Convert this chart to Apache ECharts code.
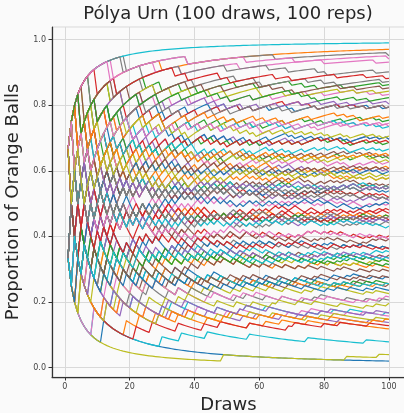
<!DOCTYPE html>
<html><head><meta charset="utf-8">
<script src="https://cdn.jsdelivr.net/npm/echarts@6.0.0/dist/echarts.min.js"></script>
<style>html,body{margin:0;padding:0;background:#fafafa}#chart{width:404px;height:413px}</style>
</head><body><div id="chart"></div>
<script>
const chartTitle = 'Pólya Urn (100 draws, 100 reps)';
const xName = 'Draws';
const yName = 'Proportion of Orange Balls';
const xTicks = [0, 20, 40, 60, 80, 100];
const yTicks = [0, 0.2, 0.4, 0.6, 0.8, 1.0];
const palette = ['#1f77b4','#ff7f0e','#2ca02c','#d62728','#9467bd','#8c564b','#e377c2','#7f7f7f','#bcbd22','#17becf'];
const initialOrange = 1;
const initialTotal = 2;
// one string per rep: draw outcomes 1..100, '1' = orange drawn, '0' = blue drawn
const repDraws = [
"0000000000 0100000000 0000000000 0000000000 0000000000 0000000000 0000000000 0000000000 0000000000 0000000000",
"1111011111 1111111111 1111111110 1111111111 1111111111 1111111111 1111111111 1111111111 1111111111 1111111111",
"1011001101 1100100110 0111010011 0101101001 1010110101 1001011010 1101011010 0011010101 0110110110 0110100101",
"0100110010 1001011010 0110100101 1100100110 1010001001 0101101001 1001011010 0011010101 1000110001 1011001100",
"1110110110 0111011101 1101101011 1011101011 1110110110 1101011010 1101111101 0111011101 1101101011 1110110110",
"0100100010 1010001001 0010010001 1001010100 0001001010 1000100100 0110001010 0100010010 1001000100 0010101001",
"1111111111 1111011111 1111111011 1111101111 1111111111 1110111111 1111111111 1111111110 1111111111 1111101111",
"1111111111 1111111101 1111111111 1111111011 1111111111 1111111111 1111011111 1111111111 1111111111 1111111110",
"0000000000 0000000000 0000000000 0000000000 0000000010 0000000000 0000000000 0000000000 0000001000 0000001000",
"1111111111 1111111111 1111111111 1111111111 1111111111 1111111111 1111111111 1111111111 1111111111 1111111111",
"1111011110 1110111011 1101111101 0111111011 1111011110 1110111011 1101111101 0111111011 1111011110 1110111011",
"0100000000 0000000010 0010000100 0000100000 0001000000 0000001000 0100001000 0000100000 0001000000 0000000000",
"1111111011 1110111111 1111011110 1111101111 0111111111 1101111101 1111111110 1110111011 1111101111 1111111011",
"0110001010 1001010100 0110100101 0010010001 1010001001 0100110010 1000110001 0101101001 0100100010 0010101001",
"1101011010 0111010011 1101101011 1011001100 1010110101 0110110110 1110110110 0110100101 1011001101 1101011010",
"0010010000 1000100100 0001010000 0100100010 0010000100 1001000100 0000100010 0100010010 0010010001 1000000001",
"1110111011 1101101011 0111011101 1101111101 1011101011 1110110110 0111111011 1101101011 1111011110 1110110110",
"1111111111 1111111011 1110111111 1111101111 1111111110 1111111111 1101111101 1111111011 0111111111 1111101111",
"0001010000 0100001000 1000100100 0000100010 0010010000 0100100010 0010000100 0001001010 0100000000 0010010000",
"0000000010 0000000000 0000000001 0000010000 0001000000 0000001000 0000000000 0000100000 0000000000 0010000000",
"1011001100 0100110010 1001011010 0010101001 0110100101 1000110001 0101101001 0110001010 1100100110 1010001001",
"0010010001 1001000100 0100100010 1010001001 0001001010 0010000100 1000100100 0100110010 0100010010 0001010000",
"1110110110 1011001101 0111011101 1101011010 1010110101 1101101011 0110110110 1011101011 0111010011 1101011010",
"0110100101 1011001101 0101101001 1001011010 0110110110 1100100110 0011010101 1010110101 0110100101 1001010100",
"0000100000 0010000100 0000000010 0100001000 0001000000 0000100010 0000001000 0100000000 0000100000 0001000000",
"1101011010 0110100101 1011001101 0111010011 1001011010 1010110101 0110110110 1100100110 1101011010 0011010101",
"1111011110 1111111011 1110111011 1101111101 1111101111 0111111011 1110111111 1111011110 1111111110 1110111011",
"1001010100 0100100010 0110100101 1000100100 0010101001 0100010010 1010001001 0010010001 0100110010 1001000100",
"0111010011 1101101011 1001011010 1010110101 0110110110 1011001100 1101011010 1110110110 0101101001 1011001101",
"0100001000 0000100000 1000000001 0010000100 0000001000 0001010000 0100000000 0000100010 0010000100 0000000010",
"1101101011 1110111011 0111011101 1010110101 1110110110 1011101011 1101111101 0110110110 1101101011 1110110110",
"1001011010 0100110010 1011001100 0101101001 1000110001 0110100101 1010001001 1100100110 0011010101 0110001010",
"0100100010 0010000100 1001000100 0001010000 1000100100 0000100010 0010010001 0100001000 0001001010 0010010000",
"1111011110 1101111101 1110110110 1111101111 0111111011 1110111011 1111111011 1101101011 1111011110 1101111101",
"0110100101 1101011010 0101101001 1001011010 0011010101 1010110101 0100110010 1100100110 0110100101 1011001100",
"1010001001 0110100101 0100100010 1001010100 0010101001 1000110001 0100010010 0110001010 1001000100 0101101001",
"0000000010 0100001000 0000100000 0010000100 1000000001 0001000000 0000100010 0010010000 0000001000 0100000000",
"1111111011 1111101111 1110111011 1111111110 1111111111 1101111101 0111111111 1111011110 1110111111 1111111011",
"0010010001 0100100010 1010001001 0001001010 1000100100 0100110010 0010000100 1001000100 0100010010 1001010100",
"1011001101 0110100101 1101011010 0011010101 0111010011 1001011010 1010110101 0101101001 0110110110 1100100110",
"1000100100 0010010000 0100100010 1001000100 0001010000 0010010001 0100001000 1000100100 0110001010 0000100010",
"1110110110 0110100101 1011001101 1101101011 0111010011 1010110101 1100100110 1101011010 1011101011 0110110110",
"1101111101 1110110110 1111011110 0111011101 1110111011 1101101011 0111111011 1110110110 1111101111 1011101011",
"0001000000 0000000000 0100001000 0000100000 0010000100 0000001000 0000000010 1000000001 0000100000 0001000000",
"0110001010 1011001100 0100110010 0110100101 1001010100 0101101001 1000110001 0011010101 1010001001 1001011010",
"0111011101 1101011010 1110110110 0111010011 1101101011 1010110101 1011101011 0110110110 1110110110 1011001101",
"1100100110 0110100101 1001011010 0011010101 1011001100 0101101001 1001011010 0110100101 1100100110 0011010101",
"0010000100 1000000001 0001010000 0100100010 0000100000 0010010000 0100001000 0001001010 0000001000 0010000100",
"1111101111 1110111011 1111111011 1101111101 1111011110 1111111110 0111111011 1110111111 1111011110 1111101111",
"0100100010 1010001001 0010010001 0110001010 1000100100 1001010100 0100010010 0010101001 0001001010 0100110010",
"1010110101 0110100101 1100100110 1011001101 0101101001 1001011010 0111010011 0011010101 1101011010 0110100101",
"0001001010 0100001000 0010010001 1000000001 0100100010 0010000100 0001010000 1000100100 0000100010 0100010010",
"1101101011 0111011101 1010110101 1110111011 1011101011 0110110110 1110110110 1101111101 0111010011 1101101011",
"0011010101 1001010100 0110100101 1100100110 0100110010 1011001101 0101101001 1000110001 0110100101 1001011010",
"1110111011 1111111011 1101111101 0111111011 1110110110 1111011110 1111101111 1101111101 1110111011 1111011110",
"0100010010 0010010001 1000100100 0001001010 0110001010 0010000100 1001000100 0100100010 0001010000 1000100100",
"1011001101 1101101011 0110110110 1110110110 1001011010 0111011101 1010110101 1101011010 0111010011 1011101011",
"1000110001 0110100101 1010001001 0100110010 1011001100 0010101001 0101101001 1001010100 0110001010 1100100110",
"0000100000 0010010000 0000000010 1000000001 0000001000 0100001000 0001000000 0000100010 0010000000 0000010000",
"1110110110 1111011110 1011101011 1101111101 0111011101 1110111011 1101101011 0111111011 1110110110 1101101011",
"0110001010 0100100010 1001010100 0010101001 1000100100 0110100101 0010010001 1010001001 0100010010 1001000100",
"0110110110 1011001101 1100100110 1101011010 0111010011 1010110101 0101101001 1110110110 1001011010 1011001101",
"1001000100 0010101001 0100010010 1000100100 0110001010 0001001010 0100100010 0010010001 1001010100 0010000100",
"1111111110 1111101111 1111111111 1110111011 1111111011 0111111111 1111011110 1111111111 1110111111 1101111101",
"1011001100 0100110010 1001011010 0110001010 0101101001 1010001001 0110100101 1000110001 1100100110 0010101001",
"0101101001 1010110101 0110100101 1001011010 1101011010 0011010101 1100100110 0111010011 1001010100 0110100101",
"0100001000 0010010000 1000100100 0000100000 0001010000 0100100010 0000001000 0010000100 1000000001 0001001010",
"1101111101 1110111011 1111011110 1101101011 1111101111 0111111011 1110110110 1111111011 1110111011 1101111101",
"1101101011 0110110110 1011001101 1110110110 0111010011 1101011010 1011101011 1010110101 0111011101 1100100110",
"0010010001 0001010000 0100100010 0010000100 1001000100 0000100010 0100010010 1000000001 0010010000 0100100010",
"1010110101 0111010011 1101101011 0110100101 1011001101 1101011010 0110110110 1001011010 1110110110 0111010011",
"0001000000 0100001000 0000100000 0010000100 0000000010 1000000001 0000100000 0001000000 0100000000 0000100010",
"0110100101 1000110001 1011001100 0100110010 1001011010 0110001010 0101101001 1010001001 0011010101 1100100110",
"1110110110 1101101011 0111011101 1011101011 1101011010 1110111011 0110110110 1101111101 1011001101 1110110110",
"0100110010 0010010001 1000100100 0110001010 0100010010 1001000100 0010101001 0001001010 1000110001 0010000100",
"1111101111 1111011110 1110111111 1111111011 1101111101 1111111110 1110111011 0111111111 1111011110 1111111011",
"1001010100 0110100101 0100100010 1010001001 0011010101 1000100100 0110001010 0101101001 0010010001 1001000100",
"1100100110 1011001101 0110100101 1010110101 0101101001 1101011010 0011010101 0111010011 1001011010 0110110110",
"0000100010 0100000000 0010010000 1000100100 0000001000 0010000100 0001010000 0100001000 0000100000 0010010001",
"0111011101 1101101011 1010110101 1110110110 0110110110 1011101011 1101011010 1110111011 0111010011 1101101011",
"0101101001 1100100110 0011010101 1010110101 0100110010 1001011010 0110100101 1011001100 1000110001 0110110110",
"1110111011 1101101011 1111011110 0111111011 1110110110 1101111101 1011101011 1111101111 1110110110 0111111011",
"0100100010 1001000100 0010101001 0001001010 1000100100 0100010010 0110001010 0010000100 1001010100 0000100010",
"1001011010 0110001010 1100100110 1000110001 0110100101 0100110010 1011001100 0010101001 0101101001 1001010100",
"0010000100 0000100000 1000000001 0100001000 0000001000 0001010000 0010000000 0000100010 0100000000 0010010000",
"1101011010 1010110101 0111011101 1001011010 1110110110 0110100101 1011001101 1101101011 0110110110 1010110101",
"1111111111 1110111111 1111111111 1111111011 1111111111 1111101111 1111111111 0111111111 1111111111 1111111110",
"1011001101 0101101001 1100100110 0110100101 1010110101 1001010100 0111010011 0011010101 1001011010 0110100101",
"1101111101 0111011101 1110110110 1101101011 1111011110 1010110101 1110111011 0110110110 1011101011 1101101011",
"0110100101 1010001001 0100110010 1001011010 0010101001 0110001010 1100100110 1000110001 0101101001 0010010001",
"0001010000 0100100010 0010000100 1000100100 0000100010 0010010001 0100001000 0001000000 1001000100 0010010000",
"1110110110 0111010011 1101101011 1010110101 0111011101 1011001101 1101011010 1011101011 0110110110 1110110110",
"1111011110 1110111111 1101111101 1111101111 1110111011 0111111011 1111111110 1101101011 1111011110 1110111111",
"1000110001 0100100010 0110100101 0010010001 1010001001 0001001010 0100110010 1001000100 0110001010 0100010010",
"0111010011 1001011010 1010110101 0110100101 1101011010 0101101001 1011001101 1100100110 0110110110 0011010101",
"0100010010 0010000100 1001000100 0001010000 0100100010 1000100100 0010010000 0110001010 0000100010 1001000100",
"1101101011 1111011110 0111011101 1110111011 1011101011 1101111101 1110110110 0111111011 1101101011 1110111011",
"0110100101 1001010100 1011001100 0100110010 0101101001 1100100110 1000110001 0011010101 1010001001 0110100101",
"1011001101 1101011010 0110100101 0111010011 1010110101 1110110110 1001011010 0110110110 1100100110 1011001101",
"0010010001 1000100100 0110001010 0100100010 1001010100 0010000100 0100110010 0001001010 1010001001 0100010010"
];

const series = repDraws.map(function (s, i) {
  const bits = s.replace(/\s+/g, '');
  let orange = initialOrange;
  const data = [];
  for (let n = 1; n <= bits.length; n++) {
    if (bits[n - 1] === '1') orange++;
    data.push([n, orange / (n + initialTotal)]);
  }
  return {
    type: 'line', data: data, showSymbol: false, symbol: 'none', silent: true,
    lineStyle: { width: 1.2, color: palette[i % palette.length], join: 'round' },
    itemStyle: { color: palette[i % palette.length] }
  };
});

const chart = echarts.init(document.getElementById('chart'), null, { renderer: 'canvas' });
chart.setOption({
  animation: false,
  backgroundColor: '#fafafa',
  textStyle: { fontFamily: 'DejaVu Sans' },
  graphic: [{
    type: 'text', x: 228, y: 14.5,
    style: { text: chartTitle, font: '18px "DejaVu Sans"', fill: '#262626', align: 'center', verticalAlign: 'middle', textAlign: 'center', textVerticalAlign: 'middle' }
  }],
  grid: { left: 52, top: 27, right: -1, bottom: 36, containLabel: false, outerBoundsMode: 'none', show: true, borderColor: '#d9d9d9', borderWidth: 1, backgroundColor: 'transparent' },
  xAxis: {
    type: 'value', min: -3.95, max: 104.95,
    name: xName, nameLocation: 'middle', nameGap: 16,
    nameTextStyle: { fontSize: 18, color: '#262626', fontFamily: 'DejaVu Sans' },
    axisLine: { show: true, onZero: false, lineStyle: { color: '#333333', width: 1.25 } },
    axisTick: { show: true, length: 3.5, customValues: xTicks, lineStyle: { color: '#333333', width: 1 } },
    axisLabel: { customValues: xTicks, fontSize: 8, color: '#444444', margin: 6, formatter: function (v) { return String(Math.round(v)); } },
    splitLine: { show: true, lineStyle: { color: '#d9d9d9', width: 1 } }
  },
  yAxis: {
    type: 'value', min: -0.029, max: 1.0388,
    name: yName, nameLocation: 'middle', nameGap: 22,
    nameTextStyle: { fontSize: 18, color: '#262626', fontFamily: 'DejaVu Sans' },
    axisLine: { show: true, onZero: false, lineStyle: { color: '#333333', width: 1.25 } },
    axisTick: { show: true, length: 3.5, customValues: yTicks, lineStyle: { color: '#333333', width: 1 } },
    axisLabel: { customValues: yTicks, fontSize: 8, color: '#444444', margin: 6, formatter: function (v) { return v.toFixed(1); } },
    splitLine: { show: true, lineStyle: { color: '#d9d9d9', width: 1 } }
  },
  series: series
});
</script>
</body></html>
